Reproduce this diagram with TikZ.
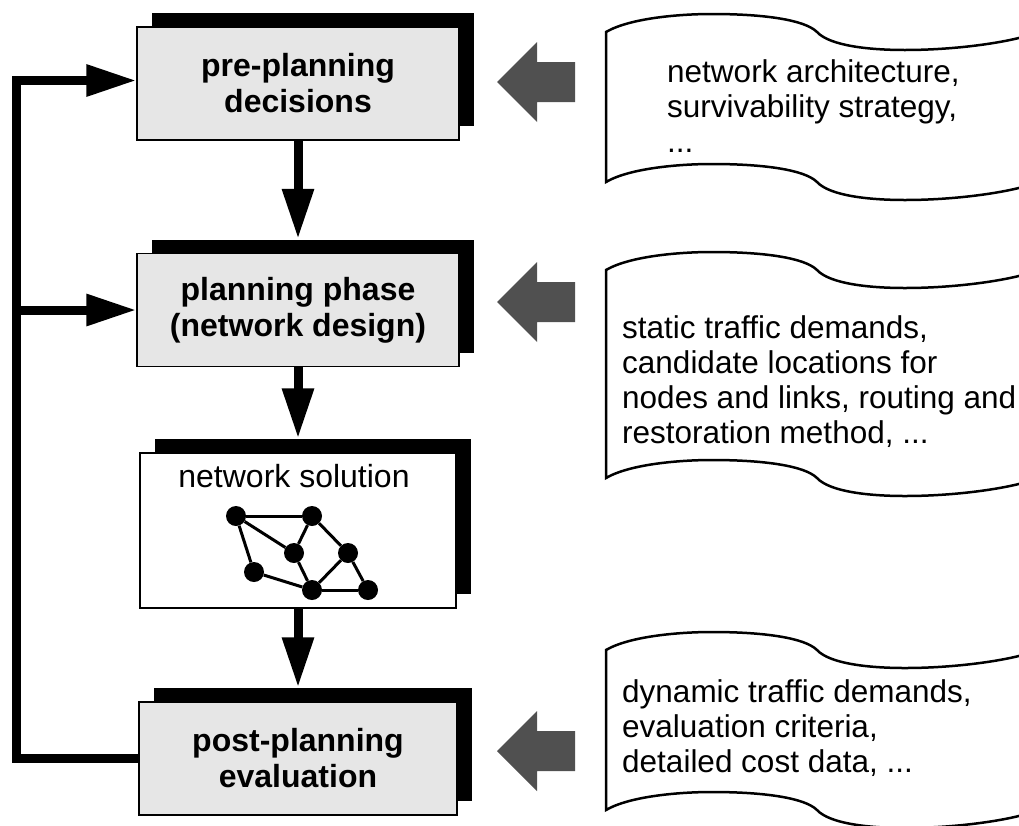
\documentclass[tikz,border=0pt]{standalone}
\usepackage{fontspec}
\setmainfont{Liberation Sans}
\usepackage{tikz}
\usetikzlibrary{calc, arrows.meta, shadows}
\tikzset{>={Triangle[width=30pt, length=50pt]}}
\definecolor{boxgray}{RGB}{230, 230, 230}
\definecolor{arrowgray}{RGB}{80, 80, 80}
\tikzset{
  phase/.style = {draw, line width=1.2pt, fill=boxgray, minimum width=322pt, minimum height=113pt,
    inner sep=0pt, align=center, font=\fontsize{32}{36}\selectfont\bfseries,
    drop shadow={fill=black, opacity=1, shadow xshift=15pt, shadow yshift=14pt}},
  flow/.style = {line width=9pt},
  vertex/.style = {circle, fill=black, inner sep=0pt, minimum size=20pt},
  link/.style = {line width=3pt},
  docline/.style = {line width=2.5pt},
  doctext/.style = {anchor=base west, align=left, inner sep=0pt, font=\fontsize{31.5}{35}\selectfont}
}

\begin{document}
\begin{tikzpicture}[x=1pt, y=-1pt]
\clip (0,0) rectangle (1019,825);

% planning steps
\node[phase] (pre) at (298,83.5) {pre-planning\\decisions};
\node[phase] (plan) at (298,310) {planning phase\\(network design)};
\node[phase, fill=white, minimum width=316pt, minimum height=155pt] (sol) at (298,530.5) {};
\node[phase, minimum width=318pt] (post) at (298,758.5) {post-planning\\evaluation};
\node[font=\fontsize{32}{36}\selectfont, anchor=base, inner sep=0pt] (soltext) at (294,487) {network solution};

% small network inside the solution box
\node[vertex] (v1) at (236,516) {};
\node[vertex] (v2) at (312,516) {};
\node[vertex] (v3) at (294,553) {};
\node[vertex] (v4) at (348,553) {};
\node[vertex] (v5) at (254,572) {};
\node[vertex] (v6) at (312,590) {};
\node[vertex] (v7) at (368,590) {};
\foreach \a/\b in {v1/v2, v1/v3, v1/v5, v2/v3, v2/v4, v3/v6, v5/v6, v6/v4, v6/v7, v4/v7}
  \draw[link] (\a) -- (\b);

% main flow
\draw[flow, ->] (pre.south) -- ($(plan.north)+(0,-14)$);
\draw[flow, ->] (plan.south) -- ($(sol.north)+(0,-14)$);
\draw[flow, ->] (sol.south) -- ($(post.north)+(0,-14)$);

% feedback loop
\coordinate (back) at (16,0);
\draw[flow, ->] (post.west) -- (post.west -| back) -- ($(pre.west -| back)+(0,-3)$) -- ($(pre.west)+(0,-3)$);
\draw[flow, ->] (plan.west -| back) -- (plan.west);

% input arrows
\foreach \y in {82, 302, 751}
  \fill[arrowgray] (497,\y) -- ++(40,-40) -- ++(0,20) -- ++(38,0) -- ++(0,40)
    -- ++(-38,0) -- ++(0,20) -- cycle;

% input documents
\foreach \ya/\hh in {32/150, 270/208, 650/160} {
  \draw[docline] (606,\ya)
    .. controls (630,\ya-14) and (680,\ya-18) .. (712,\ya-18)
    .. controls (765,\ya-18) and (805,\ya-12) .. (817,\ya)
    .. controls (830,\ya+14) and (870,\ya+18) .. (905,\ya+18)
    .. controls (950,\ya+18) and (1000,\ya+12) .. (1030,\ya+3)
    -- (1030,\ya+\hh+3)
    .. controls (1000,\ya+\hh+12) and (950,\ya+\hh+18) .. (905,\ya+\hh+18)
    .. controls (870,\ya+\hh+18) and (830,\ya+\hh+14) .. (817,\ya+\hh)
    .. controls (805,\ya+\hh-12) and (765,\ya+\hh-18) .. (712,\ya+\hh-18)
    .. controls (680,\ya+\hh-18) and (630,\ya+\hh-14) .. (606,\ya+\hh)
    -- cycle;
}
\node[doctext] (arch) at (667,152) {network architecture,\\survivability strategy,\\...};
\node[doctext] (demand) at (622,443) {static traffic demands,\\candidate locations for\\nodes and links, routing and\\restoration method, ...};
\node[doctext] (crit) at (622,772) {dynamic traffic demands,\\evaluation criteria,\\detailed cost data, ...};

\end{tikzpicture}
\end{document}
